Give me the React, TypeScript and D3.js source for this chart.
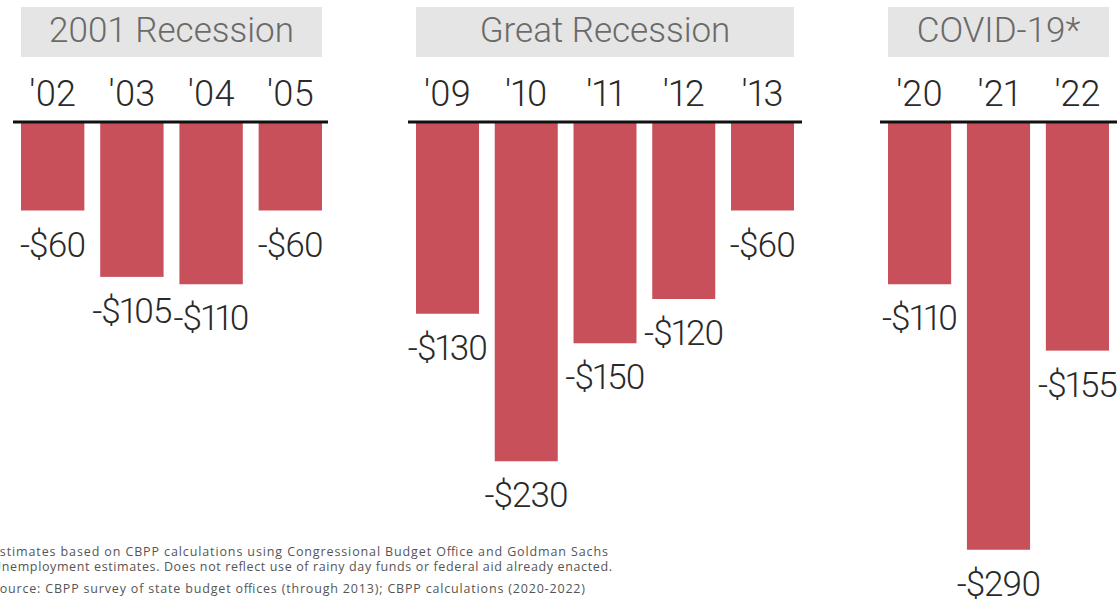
import React from "react";
import * as d3 from "d3";

const panelTitles = ["2001 Recession", "Great Recession", "COVID-19*"];
const years2001 = ["'02", "'03", "'04", "'05"];
const values2001 = [60, 105, 110, 60];
const yearsGreat = ["'09", "'10", "'11", "'12", "'13"];
const valuesGreat = [130, 230, 150, 120, 60];
const yearsCovid = ["'20", "'21", "'22"];
const valuesCovid = [110, 290, 155];
const footnotes = [
  "Estimates based on CBPP calculations using Congressional Budget Office and Goldman Sachs",
  "Unemployment estimates. Does not reflect use of rainy day funds or federal aid already enacted.",
  "Source: CBPP survey of state budget offices (through 2013); CBPP calculations (2020-2022)",
];

const W = 1117;
const H = 603;
const BASE = 122;
const BAR = "#c8505a";
const FONT = "Roboto, 'Open Sans', sans-serif";

const panels = [
  { title: panelTitles[0], years: years2001, values: values2001, range: [21, 322], line: [13, 328] },
  { title: panelTitles[1], years: yearsGreat, values: valuesGreat, range: [416, 794], line: [408, 802] },
  { title: panelTitles[2], years: yearsCovid, values: valuesCovid, range: [888, 1109], line: [880, 1117] },
];

const y = d3.scaleLinear().domain([0, 300]).range([BASE, BASE + 300 * 1.475]);

export default function App() {
  return (
    <svg
      width={W}
      height={H}
      style={{ position: "absolute", left: 0, top: 0, display: "block", background: "#fff" }}
    >
      {panels.map((p, i) => {
        const x = d3.scaleBand<string>().domain(p.years).range(p.range as [number, number]).paddingInner(0.2).paddingOuter(0);
        return (
          <g key={i}>
            <rect x={p.range[0]} y={7} width={p.range[1] - p.range[0]} height={50} fill="#e5e5e5" />
            <text
              x={(p.range[0] + p.range[1]) / 2}
              y={42}
              textAnchor="middle"
              fontFamily={FONT}
              fontWeight={300}
              fontSize={35}
              fill="#6a6a6a"
            >
              {p.title}
            </text>
            {p.years.map((yr, j) => (
              <text
                key={yr}
                x={(x(yr) as number) + x.bandwidth() / 2}
                y={106}
                textAnchor="middle"
                fontFamily={FONT}
                fontWeight={300}
                fontSize={36}
                fill="#2a2a2a"
                style={{ fontVariantNumeric: "proportional-nums" }}
              >
                {yr}
              </text>
            ))}
            {p.values.map((v, j) => (
              <rect
                key={"b" + j}
                x={x(p.years[j]) as number}
                y={y(0)}
                width={x.bandwidth()}
                height={y(v) - y(0)}
                fill={BAR}
              />
            ))}
            {p.values.map((v, j) => (
              <text
                key={"l" + j}
                x={(x(p.years[j]) as number) + x.bandwidth() / 2}
                y={y(v) + 46}
                textAnchor="middle"
                fontFamily={FONT}
                fontWeight={300}
                fontSize={35}
                letterSpacing={-1}
                fill="#2a2a2a"
                style={{ fontVariantNumeric: "proportional-nums" }}
              >
                {"-$" + v}
              </text>
            ))}
            <line x1={p.line[0]} x2={p.line[1]} y1={BASE} y2={BASE} stroke="#111" strokeWidth={3} />
          </g>
        );
      })}
      {footnotes.map((t, i) => (
        <text
          key={i}
          x={-8}
          y={[556, 571, 593][i]}
          fontFamily="'Open Sans', Roboto, sans-serif"
          fontSize={12.5}
          fill="#555"
          textLength={[616, 620, 593][i]}
          lengthAdjust="spacing"
        >
          {t}
        </text>
      ))}
    </svg>
  );
}
